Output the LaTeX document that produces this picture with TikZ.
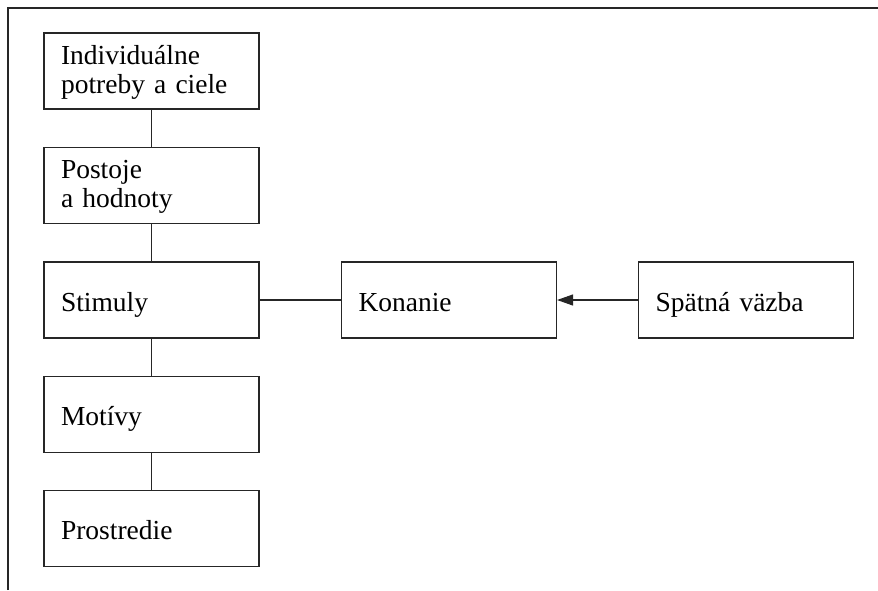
\documentclass[tikz,border=0pt]{standalone}
\usepackage{fontspec}
\setmainfont{Liberation Serif}
\usetikzlibrary{arrows.meta}
\begin{document}
\begin{tikzpicture}[x=1pt,y=-1pt,
  boxnode/.style={draw=black!85, line width=1.1pt, rectangle, minimum width=215pt, minimum height=76pt,
    text width=181pt, inner xsep=17pt, inner ysep=0pt, align=left,
    font=\fontsize{27.5}{29}\selectfont},
  oneline/.style={text height=22pt, text depth=0pt},
  twoline/.style={text height=22pt, text depth=36pt},
  link/.style={draw=black!85, line width=1.1pt},
  frame/.style={draw=black!85, line width=1.5pt}]
\useasboundingbox (0,0) rectangle (878,590);
\coordinate (fb) at (8,590);
\coordinate (fc) at (8,8);
\coordinate (fr) at (878,8);
\draw[frame] (fb) -- (fc) -- (fr);
\node[boxnode, twoline] (ind) at (151.5,71) {Individuálne\\potreby a ciele};
\node[boxnode, twoline] (pos) at (151.5,185.5) {Postoje\\a hodnoty};
\node[boxnode, oneline] (sti) at (151.5,300) {Stimuly};
\node[boxnode, oneline] (mot) at (151.5,414.5) {Motívy};
\node[boxnode, oneline] (pro) at (151.5,528.5) {Prostredie};
\node[boxnode, oneline] (kon) at (449,300) {Konanie};
\node[boxnode, oneline] (spa) at (746,300) {Spätná väzba};
\draw[link] (ind) -- (pos);
\draw[link] (pos) -- (sti);
\draw[link] (sti) -- (mot);
\draw[link] (mot) -- (pro);
\draw[link] (sti) -- (kon);
\draw[link, -{Triangle[length=16pt,width=11pt]}] (spa) -- (kon);
\end{tikzpicture}
\end{document}
